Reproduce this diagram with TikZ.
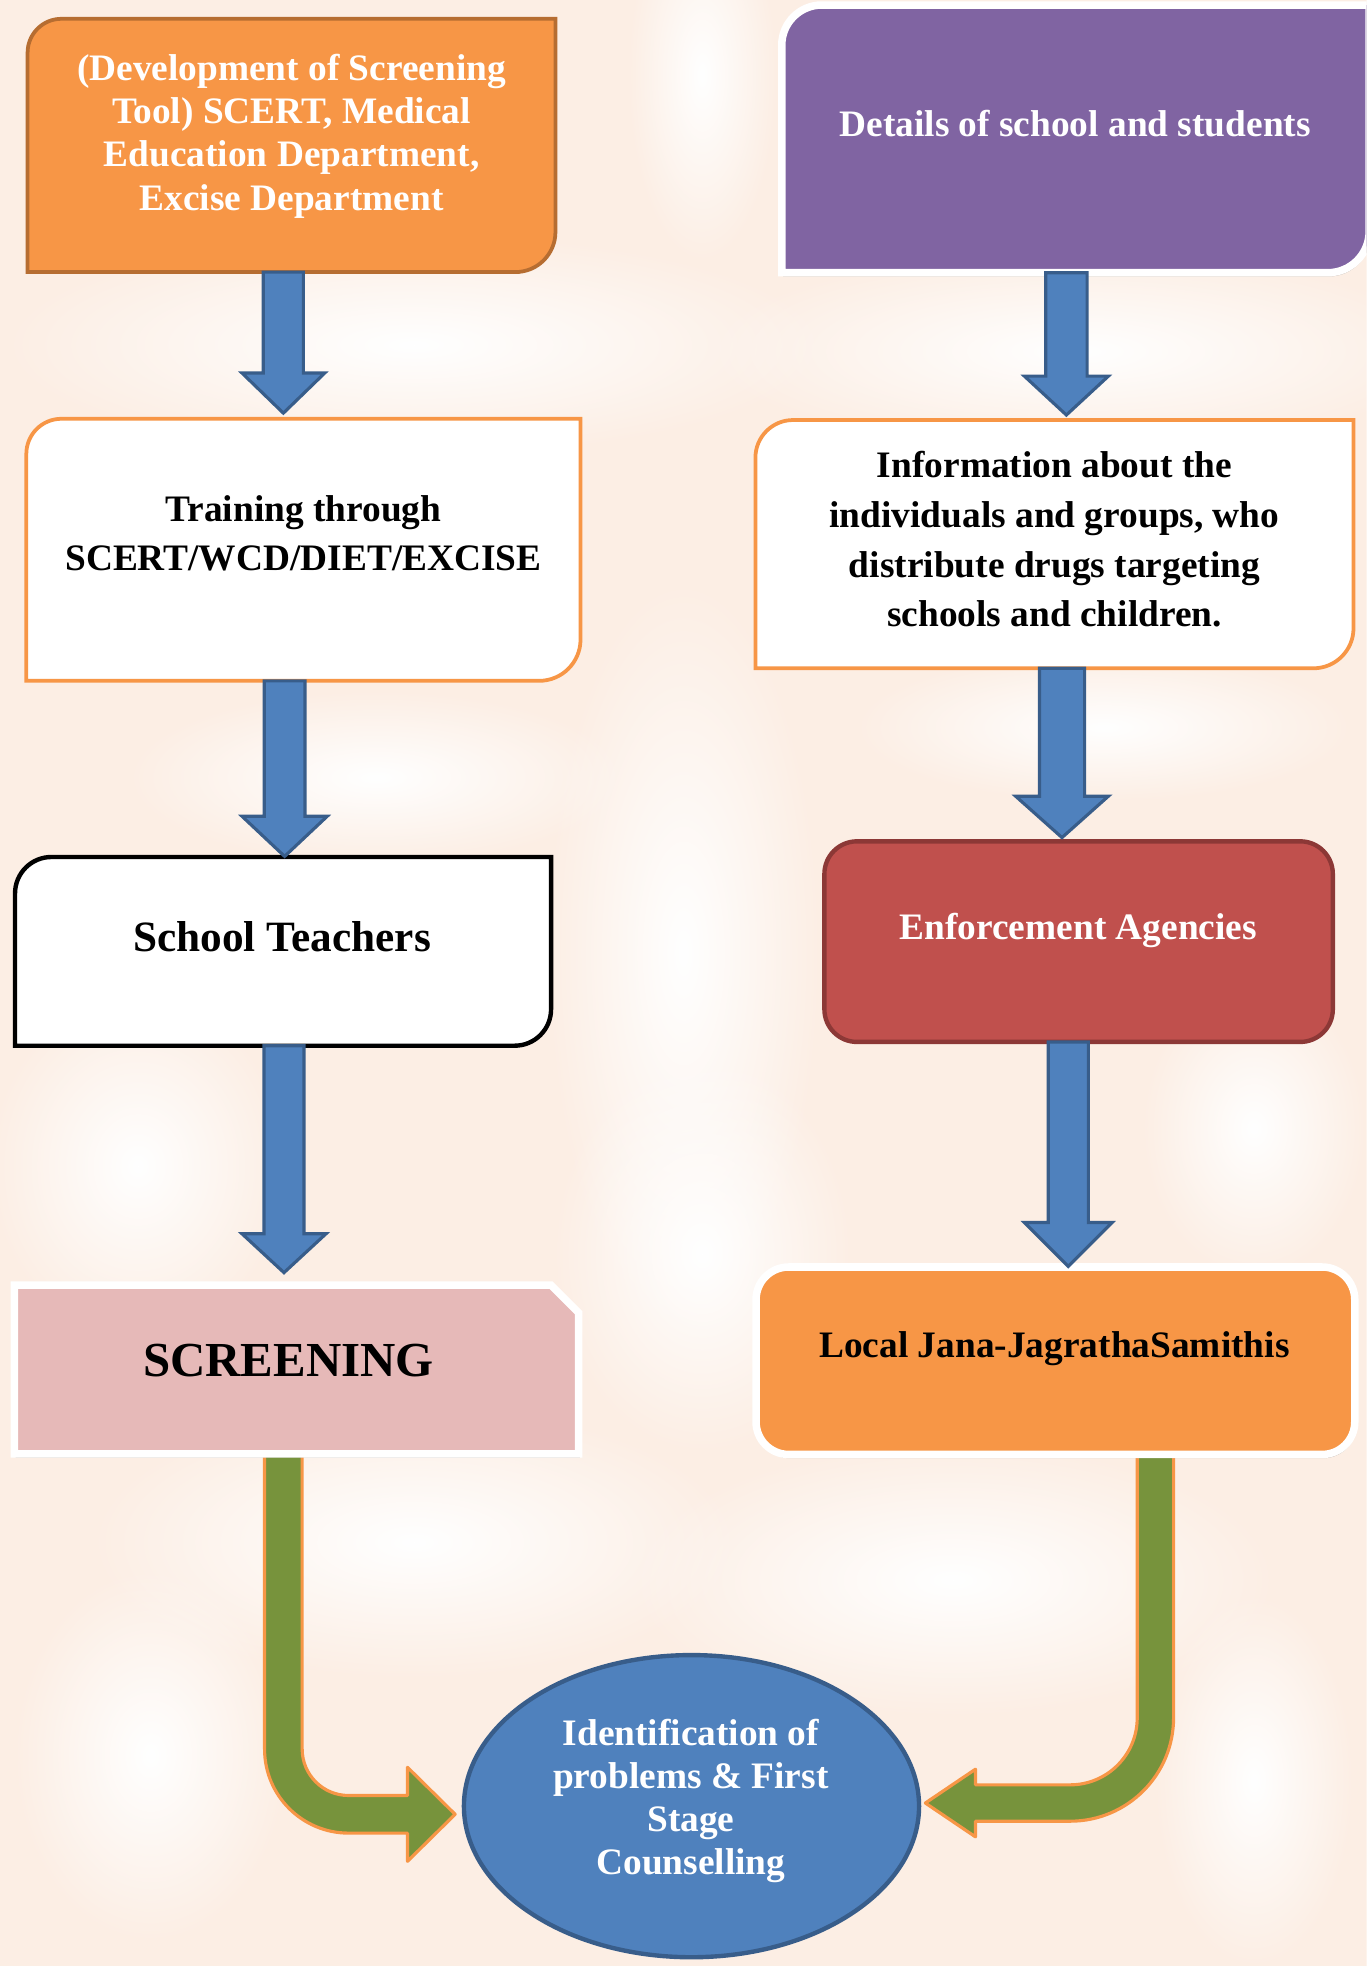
\documentclass[tikz,border=0pt]{standalone}
\usepackage{fontspec}
\setmainfont{Liberation Serif}
\usetikzlibrary{calc,shapes.geometric,shadows,fadings}
\definecolor{bgc}{HTML}{FCEEE4}
\definecolor{orng}{HTML}{F79646}
\definecolor{orngdk}{HTML}{B66D31}
\definecolor{purp}{HTML}{8064A2}
\definecolor{bluef}{HTML}{4F81BD}
\definecolor{blued}{HTML}{385D8A}
\definecolor{redf}{HTML}{C0504D}
\definecolor{redd}{HTML}{8C3836}
\definecolor{pinkf}{HTML}{E6B9B8}
\definecolor{grn}{HTML}{77933C}
\tikzfading[name=blobfade,inner color=transparent!0,outer color=transparent!100]

% round-diagonal-corner box drawn on a placeholder node: style, node, r(top-left), r(bottom-right)
\newcommand\rdiag[4]{\path[#1] ([yshift=-#3]#2.north west) arc[start angle=180,end angle=90,radius=#3] -- (#2.north east) -- ([yshift=#4]#2.south east) arc[start angle=0,end angle=-90,radius=#4] -- (#2.south west) -- cycle;}
% blue block arrow: start, tip, shaft half width, head half width, head length
\newcommand\blockarrow[5]{\path[barrow] let \p1=#1, \p2=#2 in (\x1-#3,\y1) -- (\x1-#3,\y2+#5) -- (\x1-#4,\y2+#5) -- (\x1,\y2) -- (\x1+#4,\y2+#5) -- (\x1+#3,\y2+#5) -- (\x1+#3,\y1) -- cycle;}

\tikzset{
  ph/.style={rectangle,inner sep=0pt,outer sep=0pt},
  lbl/.style={inner sep=0pt,outer sep=0pt,anchor=base,font=\bfseries\fontsize{29.8}{34.4}\selectfont},
  lblwide/.style={lbl,font=\bfseries\fontsize{29.8}{39.6}\selectfont},
  barrow/.style={fill=bluef,draw=blued,line width=2.5pt,line join=miter},
  garrow/.style={fill=grn,draw=orng,line width=2.5pt,line join=round},
  shadowed/.style={drop shadow={shadow xshift=1pt,shadow yshift=-3pt,opacity=0.35,fill=black!70}},
}

\begin{document}
\begin{tikzpicture}[x=1pt,y=-1pt]
\useasboundingbox (0,0) rectangle (1090,1568);
\clip (0,0) rectangle (1090,1568);
% background
\fill[bgc] (0,0) rectangle (1090,1568);
\foreach \cx/\cy/\rx/\ry in {330/275/330/90, 860/280/300/80, 545/760/110/300, 110/930/120/140,
  330/1230/260/110, 760/1260/260/110, 1000/900/90/120, 560/60/60/150, 300/620/200/70, 880/580/200/60,
  120/1400/110/150, 1000/1420/80/150, 560/1000/120/160}
  \fill[white,path fading=blobfade] (\cx,\cy) ellipse[x radius=\rx pt,y radius=\ry pt];

% placeholder nodes (path outlines)
\node[ph,minimum width=421pt,minimum height=202pt] (b1) at (232.5,116) {};
\node[ph,minimum width=468.5pt,minimum height=213.5pt] (b2) at (857.75,110.75) {};
\node[ph,minimum width=442pt,minimum height=209pt] (b3) at (242,438.5) {};
\node[ph,minimum width=427.5pt,minimum height=150.5pt] (b4) at (225.75,758.75) {};
\node[ph,minimum width=450pt,minimum height=134.5pt] (b5) at (236.5,1092.25) {};
\node[ph,minimum width=477pt,minimum height=198pt] (b6) at (841,434) {};
\node[ph,minimum width=405.5pt,minimum height=160pt] (b7) at (860.25,751) {};
\node[ph,minimum width=477.5pt,minimum height=149.5pt] (b8) at (841.75,1085.25) {};
\node[ellipse,inner sep=0pt,outer sep=0pt,minimum width=363pt,minimum height=241pt,
      fill=bluef,draw=blued,line width=3.5pt] (ell) at (551.5,1440.5) {};

% connector columns
\coordinate (cA1) at (226,0);
\coordinate (cA2) at (227,0);
\coordinate (cA3) at (226.5,0);
\coordinate (cA4) at (850.5,0);
\coordinate (cA5) at (847,0);
\coordinate (cA6) at (852,0);
\coordinate (cG1) at (226,0);
\coordinate (cG2) at (921.5,0);

% green bent arrows (behind the boxes)
\path[garrow] let \p1=(b5.south -| cG1), \p2=($(ell.west)+(-7,6.5)$) in
  (\x1-15pt,\y1) -- (\x1-15pt,\y2+52pt) arc[start angle=180,end angle=270,radius=67pt]
  -- (\x2-38pt,\y2-15pt) -- (\x2-38pt,\y2-37.5pt) -- (\x2,\y2) -- (\x2-38pt,\y2+37.5pt)
  -- (\x2-38pt,\y2+15pt) -- (\x1+52pt,\y2+15pt) arc[start angle=270,end angle=180,radius=37pt]
  -- (\x1+15pt,\y1) -- cycle;
\path[garrow] let \p1=(b8.south -| cG2), \p2=($(ell.east)+(5,-2.5)$) in
  (\x1+14.5pt,\y1) -- (\x1+14.5pt,\y2+68pt) arc[start angle=0,end angle=-90,radius=82.5pt]
  -- (\x2+40pt,\y2-14.5pt) -- (\x2+40pt,\y2-27pt) -- (\x2,\y2) -- (\x2+40pt,\y2+27pt)
  -- (\x2+40pt,\y2+14.5pt) -- (\x1-68pt,\y2+14.5pt) arc[start angle=-90,end angle=0,radius=53.5pt]
  -- (\x1-14.5pt,\y1) -- cycle;

% boxes
\rdiag{fill=orng,draw=orngdk,line width=3pt}{b1}{27pt}{32pt}
\rdiag{fill=purp,draw=white,line width=6pt,shadowed}{b2}{32pt}{33pt}
\rdiag{fill=white,draw=orng,line width=3pt}{b3}{28pt}{33pt}
\rdiag{fill=white,draw=black,line width=3.5pt}{b4}{29pt}{29pt}
\path[fill=pinkf,draw=white,line width=6pt,shadowed] (b5.north west) -- ([xshift=-22pt]b5.north east)
  -- ([yshift=-22pt]b5.north east) -- (b5.south east) -- (b5.south west) -- cycle;
\rdiag{fill=white,draw=orng,line width=3pt}{b6}{30pt}{32pt}
\path[fill=redf,draw=redd,line width=3.5pt,rounded corners=26pt] (b7.north west) rectangle (b7.south east);
\path[fill=orng,draw=white,line width=6pt,rounded corners=26pt,shadowed] (b8.north west) rectangle (b8.south east);

% blue block arrows
\blockarrow{(b1.south -| cA1)}{($(b3.north -| cA1)+(0,-4.5)$)}{16pt}{33pt}{32pt}
\blockarrow{(b3.south -| cA2)}{($(b4.north -| cA2)+(0,-0.5)$)}{16.3pt}{34pt}{32pt}
\blockarrow{(b4.south -| cA3)}{($(b5.north -| cA3)+(0,-10)$)}{16pt}{33.5pt}{31pt}
\blockarrow{(b2.south -| cA4)}{($(b6.north -| cA4)+(0,-4)$)}{16.5pt}{33.5pt}{31pt}
\blockarrow{(b6.south -| cA5)}{($(b7.north -| cA5)+(0,-3)$)}{18pt}{37pt}{33pt}
\blockarrow{(b7.south -| cA6)}{($(b8.north -| cA6)+(0,-0.5)$)}{16pt}{35pt}{35pt}

% texts
\node[lbl,text=white] (t1) at (232.5,64.3) {\begin{tabular}[t]{@{}c@{}}(Development of Screening\\ Tool) SCERT, Medical\\ Education Department,\\ Excise Department\end{tabular}};
\node[lbl,text=white] (t2) at (857.5,109) {Details of school and students};
\node[lblwide,text=black] (t3) at (242,415.6) {\begin{tabular}[t]{@{}c@{}}Training through\\ SCERT/WCD/DIET/EXCISE\end{tabular}};
\node[lbl,text=black,font=\bfseries\fontsize{34.5}{40}\selectfont] (t4) at (225,758.5) {School Teachers};
\node[lbl,text=black,font=\bfseries\fontsize{39}{45}\selectfont] (t5) at (230,1098) {SCREENING};
\node[lblwide,text=black] (t6) at (841,381) {\begin{tabular}[t]{@{}c@{}}Information about the\\ individuals and groups, who\\ distribute drugs targeting\\ schools and children.\end{tabular}};
\node[lbl,text=white] (t7) at (860,749) {Enforcement Agencies};
\node[lbl,text=black] (t8) at (841,1083) {Local Jana-JagrathaSamithis};
\node[lbl,text=white] (t9) at (551,1392) {\begin{tabular}[t]{@{}c@{}}Identification of\\ problems \& First\\ Stage\\ Counselling\end{tabular}};
\end{tikzpicture}
\end{document}
